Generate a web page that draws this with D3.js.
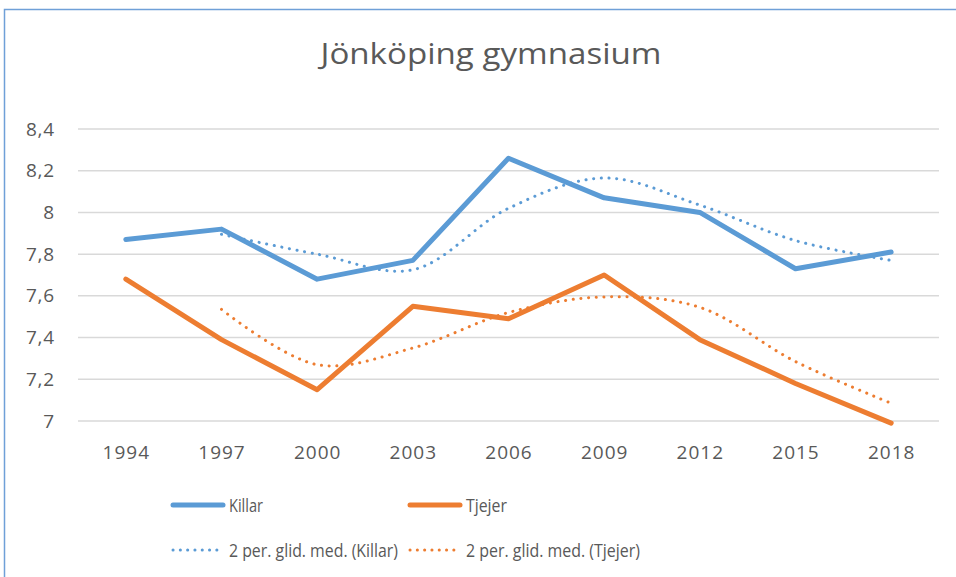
<!DOCTYPE html>
<html>
<head>
<meta charset="utf-8">
<script src="https://cdn.jsdelivr.net/npm/d3@7"></script>
<style>
  body { margin: 0; background: #fff; }
  text { font-family: "Open Sans", "Noto Sans", sans-serif; fill: #595959; }
</style>
</head>
<body>
<svg width="956" height="577"></svg>
<script>
var years = ["1994", "1997", "2000", "2003", "2006", "2009", "2012", "2015", "2018"];
var killar = [7.87, 7.92, 7.68, 7.77, 8.26, 8.07, 8.00, 7.73, 7.81];
var tjejer = [7.68, 7.39, 7.15, 7.55, 7.49, 7.70, 7.39, 7.18, 6.99];
// moving averages (start at 1997)
var killarMA = [null, 7.895, 7.80, 7.725, 8.02, 8.165, 8.035, 7.865, 7.77];
var tjejerMA = [null, 7.535, 7.27, 7.35, 7.52, 7.595, 7.545, 7.285, 7.085];
var yTicks = [7, 7.2, 7.4, 7.6, 7.8, 8, 8.2, 8.4];
var yTickLabels = ["7", "7,2", "7,4", "7,6", "7,8", "8", "8,2", "8,4"];

var blue = "#5b9bd5", orange = "#ed7d31";

var svg = d3.select("svg");

// chart border
svg.append("rect")
  .attr("x", 4.5).attr("y", 9.5)
  .attr("width", 960).attr("height", 600)
  .attr("fill", "none")
  .attr("stroke", "#6fa0d8")
  .attr("stroke-width", 1.5);

// title
svg.append("text")
  .attr("x", 491).attr("y", 63.5)
  .attr("text-anchor", "middle")
  .attr("font-size", 30)
  .attr("textLength", 341)
  .attr("lengthAdjust", "spacingAndGlyphs")
  .text("Jönköping gymnasium");

var x = d3.scalePoint().domain(years).range([78, 939]).padding(0.5);
var y = d3.scaleLinear().domain([7, 8.4]).range([421, 129]);

// gridlines
svg.append("g").selectAll("line")
  .data(yTicks)
  .enter().append("line")
  .attr("x1", 78).attr("x2", 939)
  .attr("y1", d => y(d)).attr("y2", d => y(d))
  .attr("stroke", "#d9d9d9")
  .attr("stroke-width", 1.5);

// y labels
svg.append("g").selectAll("text")
  .data(yTicks)
  .enter().append("text")
  .attr("x", 55)
  .attr("y", d => y(d) + 6.5)
  .attr("text-anchor", "end")
  .attr("font-size", 19)
  .attr("letter-spacing", 0.8)
  .text((d, i) => yTickLabels[i]);

// x axis labels
var xAxis = svg.append("g")
  .attr("transform", "translate(0,421)")
  .call(d3.axisBottom(x).tickSize(0).tickPadding(25));
xAxis.select(".domain").remove();
xAxis.selectAll("text")
  .attr("font-size", 19)
  .attr("letter-spacing", 1)
  .attr("fill", "#595959")
  .style("font-family", "'Open Sans', 'Noto Sans', sans-serif");

function pts(vals) {
  return years.map((yr, i) => ({ yr: yr, v: vals[i] })).filter(d => d.v != null);
}

var straight = d3.line().x(d => x(d.yr)).y(d => y(d.v));
var smooth = d3.line().x(d => x(d.yr)).y(d => y(d.v)).curve(d3.curveCatmullRom);

// moving average (dotted)
[[killarMA, blue], [tjejerMA, orange]].forEach(function(s) {
  svg.append("path")
    .datum(pts(s[0]))
    .attr("d", smooth)
    .attr("fill", "none")
    .attr("stroke", s[1])
    .attr("stroke-width", 3)
    .attr("stroke-linecap", "round")
    .attr("stroke-dasharray", "0.1,7.6");
});

// main series
[[killar, blue], [tjejer, orange]].forEach(function(s) {
  svg.append("path")
    .datum(pts(s[0]))
    .attr("d", straight)
    .attr("fill", "none")
    .attr("stroke", s[1])
    .attr("stroke-width", 5)
    .attr("stroke-linecap", "round")
    .attr("stroke-linejoin", "round");
});

// legend
var legend = [
  { label: "Killar", color: blue, dotted: false, x: 172, y: 505, w: 34 },
  { label: "Tjejer", color: orange, dotted: false, x: 409, y: 505, w: 41 },
  { label: "2 per. glid. med. (Killar)", color: blue, dotted: true, x: 172, y: 550, w: 169 },
  { label: "2 per. glid. med. (Tjejer)", color: orange, dotted: true, x: 409, y: 550, w: 174 }
];
var lg = svg.append("g").selectAll("g")
  .data(legend)
  .enter().append("g")
  .attr("transform", d => "translate(" + d.x + "," + d.y + ")");
lg.append("line")
  .attr("x1", 1).attr("x2", 51)
  .attr("stroke", d => d.color)
  .attr("stroke-width", d => d.dotted ? 3 : 5)
  .attr("stroke-linecap", "round")
  .attr("stroke-dasharray", d => d.dotted ? "0.1,7.2" : null);
lg.append("text")
  .attr("x", 57).attr("y", 6.5)
  .attr("font-size", 18)
  .attr("textLength", d => d.w)
  .attr("lengthAdjust", "spacingAndGlyphs")
  .text(d => d.label);
</script>
</body>
</html>
